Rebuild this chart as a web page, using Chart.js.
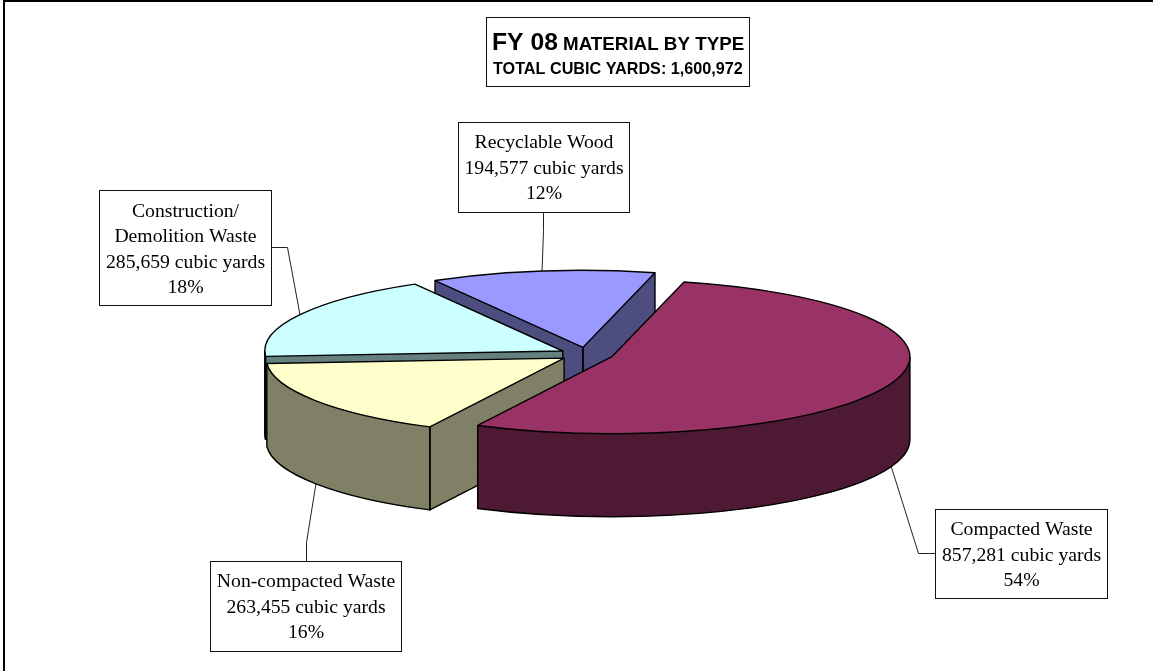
<!DOCTYPE html>
<html>
<head>
<meta charset="utf-8">
<style>
html,body{margin:0;padding:0;background:#fff;}
#wrap{position:relative;width:1153px;height:671px;overflow:hidden;}
canvas{display:block;}
</style>
<script src="https://cdn.jsdelivr.net/npm/chart.js@4"></script>
</head>
<body>
<div id="wrap"><canvas id="c" width="1153" height="671"></canvas></div>
<script>
// ---- data ----
const categories = ['Compacted Waste', 'Non-compacted Waste', 'Construction/ Demolition Waste', 'Recyclable Wood'];
const cubicYards = [857281, 263455, 285659, 194577];
const percents = ['54%', '16%', '18%', '12%'];
const amountLabels = ['857,281 cubic yards', '263,455 cubic yards', '285,659 cubic yards', '194,577 cubic yards'];
const categoryLines = [['Compacted Waste'], ['Non-compacted Waste'], ['Construction/', 'Demolition Waste'], ['Recyclable Wood']];
const topColors = ['#993366', '#FFFFCC', '#CCFFFF', '#9999FF'];
const wallColors = ['#4D1933', '#808066', '#668080', '#4D4D80'];
const titleBig = 'FY 08';
const titleRest = 'MATERIAL BY TYPE';
const titleSub = 'TOTAL CUBIC YARDS: 1,600,972';

// ---- 3D look ----
const SQUASH = 77 / 298, DEPTH = 83, EXPLODE = 27, RADIUS = 298;
const SERIF = '19.7px "Liberation Serif"';

// label boxes: left, top, right, bottom, first baseline
const boxes = [
  {l: 935, t: 509, r: 1107, b: 598, base: 535},
  {l: 210, t: 561, r: 401, b: 651, base: 587},
  {l: 99, t: 190, r: 271, b: 305, base: 216.5},
  {l: 458, t: 122, r: 629, b: 212, base: 148}
];
// leader: elbow and box attach point, anchor comes from the arc; wall=true anchors on lower rim
const leaders = [
  {wall: true, elbow: [918, 553], end: [935, 553]},
  {wall: true, elbow: [306, 542], end: [306, 561]},
  {wall: false, elbow: [287, 247], end: [271, 247]},
  {wall: false, elbow: [543, 230], end: [543, 212]}
];

function sliceGeom(arc) {
  const p = arc.getProps(['x', 'y', 'startAngle', 'endAngle', 'outerRadius'], true);
  const mid = (p.startAngle + p.endAngle) / 2;
  const dx = Math.cos(mid) * EXPLODE, dy = Math.sin(mid) * EXPLODE;
  return {
    cy: p.y, mid, dx, dy, a0: p.startAngle, a1: p.endAngle, r: p.outerRadius,
    tx: p.x + dx, ty: p.y + dy * SQUASH, ry: p.outerRadius * SQUASH
  };
}

function drawSolid(ctx, arc) {
  const g = sliceGeom(arc);
  const base = arc.options;
  const i = arc.$sliceIndex;
  const paint = (color, h) => {
    ctx.save();
    ctx.translate(0, g.cy + h);
    ctx.scale(1, SQUASH);
    ctx.translate(g.dx, -g.cy + g.dy);
    arc.options = Object.assign({}, base, {backgroundColor: color, borderWidth: 0});
    arc.draw(ctx);
    ctx.restore();
  };
  for (let h = DEPTH; h >= 1; h--) paint(wallColors[i], h);

  const rim = a => [g.tx + Math.cos(a) * g.r, g.ty + Math.sin(a) * g.ry];
  const lo = Math.max(g.a0, 0), hi = Math.min(g.a1, Math.PI);

  // clean walls over the stacked layers, so corner slivers do not leave a pale seam
  ctx.save();
  ctx.fillStyle = wallColors[i];
  if (hi > lo) {
    ctx.beginPath();
    ctx.ellipse(g.tx, g.ty, g.r, g.ry, 0, lo, hi);
    ctx.ellipse(g.tx, g.ty + DEPTH, g.r, g.ry, 0, hi, lo, true);
    ctx.closePath();
    ctx.fill();
  }
  const faceFill = a => {
    const [x, y] = rim(a);
    ctx.beginPath();
    ctx.moveTo(g.tx, g.ty);
    ctx.lineTo(g.tx, g.ty + DEPTH);
    ctx.lineTo(x, y + DEPTH);
    ctx.lineTo(x, y);
    ctx.closePath();
    ctx.fill();
  };
  if (Math.cos(g.a0) < 0) faceFill(g.a0);
  if (Math.cos(g.a1) > 0) faceFill(g.a1);
  ctx.restore();

  paint(topColors[i], 0);
  arc.options = base;

  // outlines at a uniform width
  ctx.save();
  ctx.strokeStyle = '#000';
  ctx.lineWidth = 1.4;
  ctx.lineJoin = 'round';
  const face = a => {
    const [x, y] = rim(a);
    ctx.beginPath();
    ctx.moveTo(g.tx, g.ty);
    ctx.lineTo(g.tx, g.ty + DEPTH);
    ctx.lineTo(x, y + DEPTH);
    ctx.lineTo(x, y);
    ctx.stroke();
  };
  if (Math.cos(g.a0) < 0) face(g.a0);
  if (Math.cos(g.a1) > 0) face(g.a1);
  if (hi > lo) {
    const [x0, y0] = rim(lo), [x1, y1] = rim(hi);
    ctx.beginPath();
    ctx.moveTo(x0, y0);
    ctx.lineTo(x0, y0 + DEPTH);
    ctx.ellipse(g.tx, g.ty + DEPTH, g.r, g.ry, 0, lo, hi);
    ctx.lineTo(x1, y1);
    ctx.stroke();
  }
  ctx.beginPath();
  ctx.moveTo(g.tx, g.ty);
  ctx.ellipse(g.tx, g.ty, g.r, g.ry, 0, g.a0, g.a1);
  ctx.closePath();
  ctx.stroke();
  ctx.restore();
}

function drawBox(ctx, b) {
  ctx.save();
  ctx.fillStyle = '#fff';
  ctx.strokeStyle = '#111';
  ctx.lineWidth = 1;
  ctx.fillRect(b.l, b.t, b.r - b.l, b.b - b.t);
  ctx.strokeRect(b.l + 0.5, b.t + 0.5, b.r - b.l, b.b - b.t);
  ctx.restore();
}

const pie3d = {
  id: 'pie3d',
  beforeDatasetDraw(chart, args) {
    const ctx = chart.ctx;
    const arcs = args.meta.data;
    arcs.forEach((a, i) => { a.$sliceIndex = i; });
    // frame of the page
    ctx.save();
    ctx.fillStyle = '#000';
    ctx.fillRect(3, 0, 2, 671);
    ctx.fillRect(3, 0, 1150, 2);
    ctx.restore();
    // leaders are under the solids
    arcs.forEach((arc, i) => {
      const g = sliceGeom(arc), L = leaders[i];
      const ax = g.tx + Math.cos(g.mid) * g.r;
      const ay = g.ty + Math.sin(g.mid) * g.ry + (L.wall ? DEPTH : 0);
      ctx.save();
      ctx.strokeStyle = '#222';
      ctx.lineWidth = 1;
      ctx.beginPath();
      ctx.moveTo(ax, ay);
      ctx.lineTo(L.elbow[0] + 0.5, L.elbow[1] + 0.5);
      ctx.lineTo(L.end[0] + 0.5, L.end[1] + 0.5);
      ctx.stroke();
      ctx.restore();
    });
    // back to front: the clockwise order reversed
    for (let i = arcs.length - 1; i >= 0; i--) drawSolid(ctx, arcs[i]);
    return false;
  },
  afterDraw(chart) {
    const ctx = chart.ctx;
    // category boxes
    boxes.forEach((b, i) => {
      drawBox(ctx, b);
      const lines = [...categoryLines[i], amountLabels[i], percents[i]];
      ctx.save();
      ctx.font = SERIF;
      ctx.fillStyle = '#000';
      ctx.textAlign = 'center';
      ctx.textBaseline = 'alphabetic';
      const cx = (b.l + b.r) / 2 + 0.5;
      lines.forEach((t, k) => ctx.fillText(t, cx, b.base + k * 25.5));
      ctx.restore();
    });
    // title
    drawBox(ctx, {l: 486, t: 17, r: 749, b: 86});
    ctx.save();
    ctx.fillStyle = '#000';
    ctx.textAlign = 'left';
    ctx.textBaseline = 'alphabetic';
    ctx.font = 'bold 24.7px "Liberation Sans"';
    ctx.fillText(titleBig, 492, 50);
    ctx.font = 'bold 18.8px "Liberation Sans"';
    ctx.fillText(titleRest, 563, 50);
    ctx.font = 'bold 16.2px "Liberation Sans"';
    ctx.fillText(titleSub, 493, 74);
    ctx.restore();
  }
};

new Chart(document.getElementById('c'), {
  type: 'pie',
  data: {
    labels: categories,
    datasets: [{
      data: cubicYards,
      backgroundColor: topColors,
      borderWidth: 0,
      clip: false
    }]
  },
  options: {
    responsive: false,
    animation: false,
    rotation: 14,
    radius: RADIUS,
    layout: {padding: {left: 20.2, top: 37.6, right: 0, bottom: 0}},
    plugins: {legend: {display: false}, tooltip: {enabled: false}, title: {display: false}}
  },
  plugins: [pie3d]
});
</script>
</body>
</html>
